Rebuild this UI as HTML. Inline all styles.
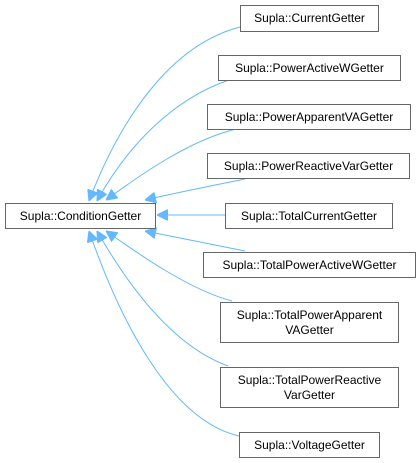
<!DOCTYPE html>
<html><head><meta charset="utf-8"><style>
html,body{margin:0;padding:0;background:#fff;}
svg{display:block}
text{font-family:"Liberation Sans",Helvetica,Arial,sans-serif;font-size:12px;fill:#000;}
rect{fill:#fff;stroke:#666;stroke-width:1}
path.e{fill:none;stroke:#63b8ff;stroke-width:1}
</style></head><body>
<svg width="420" height="463" viewBox="0 0 420 463" xmlns="http://www.w3.org/2000/svg">
<defs>
<marker id="a" viewBox="0 0 10 10" refX="10" refY="5" markerWidth="11" markerHeight="11" markerUnits="userSpaceOnUse" orient="auto">
<path d="M0,0 L10,5 L0,10 z" fill="#63b8ff" stroke="#63b8ff"/>
</marker>
</defs>
<path class="e" d="M240,27 C170,45 120,120 89,201" marker-end="url(#a)"/>
<path class="e" d="M229,80 C170,100 125,150 97,201" marker-end="url(#a)"/>
<path class="e" d="M236,129 C190,140 140,175 106,200" marker-end="url(#a)"/>
<path class="e" d="M245,179 C210,186 175,193 145,200" marker-end="url(#a)"/>
<path class="e" d="M225,215 L157,215" marker-end="url(#a)"/>
<path class="e" d="M245,251 C210,244 175,237 145,231" marker-end="url(#a)"/>
<path class="e" d="M232,301 C190,290 140,255 106,231" marker-end="url(#a)"/>
<path class="e" d="M228,366 C170,345 125,280 97,231" marker-end="url(#a)"/>
<path class="e" d="M239,436 C170,420 120,320 89,231" marker-end="url(#a)"/>

<rect x="5.5" y="203.5" width="150" height="25"/>
<text x="80.5" y="220" text-anchor="middle">Supla::ConditionGetter</text>

<rect x="240.5" y="5.5" width="138" height="26"/>
<text x="309.5" y="22" text-anchor="middle">Supla::CurrentGetter</text>
<rect x="218.5" y="55.5" width="182" height="25"/>
<text x="309.5" y="72" text-anchor="middle">Supla::PowerActiveWGetter</text>
<rect x="207.5" y="104.5" width="203" height="25"/>
<text x="309" y="121" text-anchor="middle">Supla::PowerApparentVAGetter</text>
<rect x="207.5" y="153.5" width="202" height="25"/>
<text x="308.5" y="170" text-anchor="middle">Supla::PowerReactiveVarGetter</text>
<rect x="225.5" y="203.5" width="167" height="25"/>
<text x="309" y="220" text-anchor="middle">Supla::TotalCurrentGetter</text>
<rect x="203.5" y="252.5" width="212" height="25"/>
<text x="309.5" y="269" text-anchor="middle">Supla::TotalPowerActiveWGetter</text>
<rect x="220.5" y="302.5" width="178" height="40"/>
<text x="309.5" y="319" text-anchor="middle">Supla::TotalPowerApparent</text>
<text x="309.5" y="334" text-anchor="middle">VAGetter</text>
<rect x="220.5" y="367.5" width="178" height="40"/>
<text x="309.5" y="384" text-anchor="middle">Supla::TotalPowerReactive</text>
<text x="309.5" y="399" text-anchor="middle">VarGetter</text>
<rect x="239.5" y="432.5" width="140" height="25"/>
<text x="309.5" y="449" text-anchor="middle">Supla::VoltageGetter</text>
</svg>
</body></html>
